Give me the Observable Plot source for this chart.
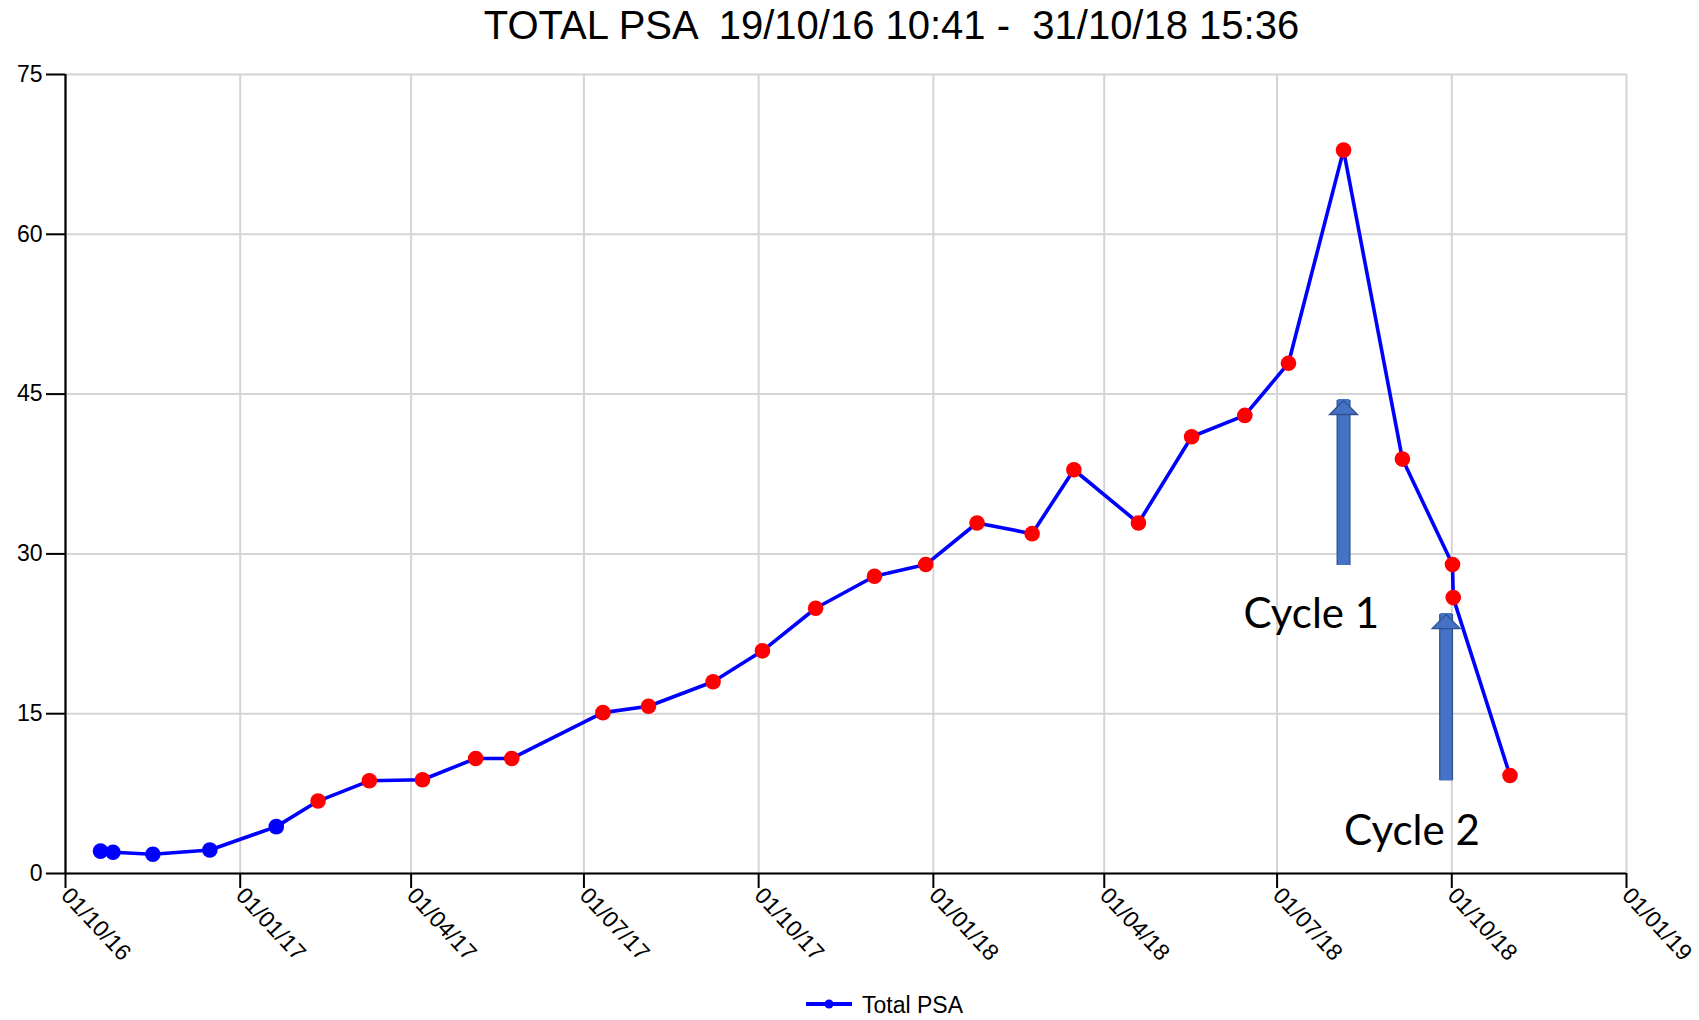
<!DOCTYPE html>
<html><head><meta charset="utf-8">
<script src="https://cdn.jsdelivr.net/npm/d3@7"></script>
<script src="https://cdn.jsdelivr.net/npm/@observablehq/plot@0.6"></script>
<style>
body{margin:0;background:#fff;font-family:"Liberation Sans",Arial,sans-serif;}
#title{height:50px;line-height:50px;font-size:40px;text-align:center;padding-left:84px;white-space:pre;color:#000;}
#legend{height:50px;position:relative;}
#legend svg{position:absolute;left:804px;top:14px;}
#legend span{position:absolute;left:862px;top:0;line-height:50px;font-size:23px;color:#000;}
</style></head><body>
<div id="title">TOTAL PSA  19/10/16 10:41 -  31/10/18 15:36</div>
<div id="chart"></div>
<div id="legend"><svg width="52" height="20"><line x1="2" y1="10" x2="48" y2="10" stroke="#0000ff" stroke-width="4"/><circle cx="25" cy="10" r="4.5" fill="#0000ff"/></svg><span>Total PSA</span></div>
<script>
// PSA readings
const dates = ["2016-10-19T10:41","2016-10-26","2016-11-16","2016-12-16","2017-01-20","2017-02-11","2017-03-10","2017-04-07","2017-05-05","2017-05-24","2017-07-11","2017-08-04","2017-09-07","2017-10-03","2017-10-31","2017-12-01","2017-12-28","2018-01-24","2018-02-22","2018-03-16","2018-04-19","2018-05-17","2018-06-14","2018-07-07","2018-08-05","2018-09-05","2018-10-01T09:00","2018-10-01T18:00","2018-10-31T15:36"];
const values = [2.1,2.0,1.8,2.2,4.4,6.8,8.7,8.8,10.8,10.8,15.1,15.7,18.0,20.9,24.9,27.9,29.0,32.9,31.9,37.9,32.9,41.0,43.0,47.9,67.9,38.9,29.0,25.9,9.2];
const groups = ["early","early","early","early","early","late","late","late","late","late","late","late","late","late","late","late","late","late","late","late","late","late","late","late","late","late","late","late","late"];

// axes
const xTicks = ["2016-10-01","2017-01-01","2017-04-01","2017-07-01","2017-10-01","2018-01-01","2018-04-01","2018-07-01","2018-10-01","2019-01-01"];
const yTicks = [0,15,30,45,60,75];

// annotations
const arrowDates = ["2018-08-05","2018-09-28"];
const arrowFrom = [28.9, 8.7];
const arrowTo = [44.4, 24.3];
const cycleLabels = ["Cycle 1","Cycle 2"];
const cycleDates = ["2018-07-19","2018-09-10"];
const cycleValues = [24.3, 3.9];

const parse = s => new Date(s.length === 10 ? s + "T00:00Z" : s + "Z");
const data = dates.map((d, i) => ({date: parse(d), value: values[i], group: groups[i]}));
const xt = xTicks.map(parse);
const arrows = arrowDates.map((d, i) => ({date: parse(d), from: arrowFrom[i], to: arrowTo[i]}));
const labels = cycleLabels.map((t, i) => ({text: t, date: parse(cycleDates[i]), value: cycleValues[i]}));

const headSymbol = {
  draw(ctx) {
    ctx.moveTo(0, 0);
    ctx.lineTo(14, 14);
    ctx.lineTo(-14, 14);
    ctx.closePath();
  }
};

const chart = Plot.plot({
  width: 1699,
  height: 930,
  marginLeft: 65,
  marginRight: 73,
  marginTop: 24,
  marginBottom: 107,
  style: {fontFamily: "'Liberation Sans', Arial, sans-serif", background: "#fff"},
  x: {type: "utc", domain: [xt[0], xt[xt.length - 1]]},
  y: {domain: [0, 75]},
  color: {domain: ["early", "late"], range: ["#0000ff", "#ff0000"]},
  marks: [
    Plot.gridX(xt, {stroke: "#d4d4d4", strokeOpacity: 1, strokeWidth: 2}),
    Plot.gridY(yTicks, {stroke: "#d4d4d4", strokeOpacity: 1, strokeWidth: 2}),
    Plot.axisX(xt, {tickFormat: d3.utcFormat("%d/%m/%y"), tickRotate: 47, tickSize: 15, tickPadding: 3, fontSize: 23, stroke: "#000", strokeWidth: 2, label: null, fill: "#000"}),
    Plot.axisY(yTicks, {tickSize: 19, tickPadding: 4, fontSize: 23, stroke: "#000", strokeWidth: 2, label: null, fill: "#000"}),
    Plot.ruleY([0], {stroke: "#000", strokeWidth: 2.2}),
    Plot.ruleX([xt[0]], {stroke: "#000", strokeWidth: 2.2}),
    Plot.line(data, {x: "date", y: "value", stroke: "#0000ff", strokeWidth: 3.6}),
    Plot.dot(data, {x: "date", y: "value", fill: "group", r: 7.8}),
    Plot.ruleX(arrows, {x: "date", y1: "from", y2: "to", stroke: "#2f528f", strokeWidth: 14}),
    Plot.ruleX(arrows, {x: "date", y1: "from", y2: "to", stroke: "#4472c4", strokeWidth: 11.5, insetBottom: 1}),
    Plot.dot(arrows, {x: "date", y: "to", symbol: headSymbol, fill: "#4472c4", stroke: "#2f528f", strokeWidth: 1.3}),
    Plot.text(labels, {x: "date", y: "value", text: "text", fontSize: 42, fontFamily: "Lato, 'Open Sans', sans-serif", fill: "#000"})
  ]
});
document.getElementById("chart").appendChild(chart);
</script>
</body></html>
